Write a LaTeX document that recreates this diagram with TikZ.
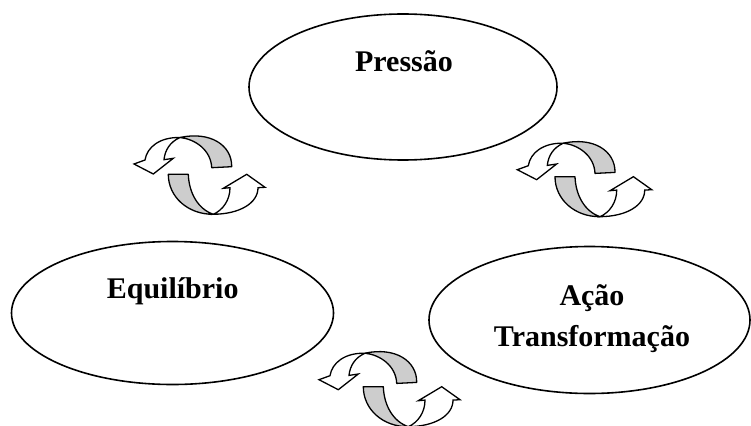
\documentclass[tikz,border=0pt]{standalone}
\usepackage{fontspec}
\setmainfont{Liberation Serif}
\usetikzlibrary{shapes.geometric}
\definecolor{bandgray}{RGB}{205,205,205}
\tikzset{
  oval/.style={ellipse, draw=black, line width=1.6pt, fill=white, inner sep=0pt},
  lbl/.style={font=\fontsize{30}{41}\selectfont\bfseries, inner sep=0pt, align=center},
  grayband/.style={draw=black, line width=1.3pt, fill=bandgray, line join=round},
  whiteband/.style={draw=black, line width=1.3pt, fill=white, line join=miter},
  toparrow/.pic={
    \path[grayband] (60,12.5) .. controls (90,6) and (112,20) .. (111.7,41.7)
      -- (91.7,42.7) .. controls (91,25) and (75,14) .. (60,12.5) -- cycle;
    \path[whiteband] (60,12.5) .. controls (40,12) and (27,22) .. (25,35)
      -- (14,39) -- (33.3,49) -- (53.3,33.3) -- (44,34.7)
      .. controls (45,25) and (50,17) .. (60,12.5) -- cycle;
  },
  botarrow/.pic={
    \path[grayband] (48.3,49.3) .. controls (48.3,72) and (68,89.5) .. (93.3,89.3)
      .. controls (78,84) and (69,68) .. (68.3,49.3) -- cycle;
    \path[whiteband] (93.3,89.3) .. controls (120,89) and (138,78) .. (138,62.7)
      -- (145,62.3) -- (126.7,49.3) -- (103.3,63.3) -- (110,62.7)
      .. controls (110,75) and (103,85) .. (93.3,89.3) -- cycle;
  }
}
\begin{document}
\begin{tikzpicture}[x=1pt,y=-1pt]
\useasboundingbox (0,0) rectangle (751,425);
% ovals
\node[oval, minimum width=308pt, minimum height=146pt] (pressao) at (403,87) {};
\node[oval, minimum width=322pt, minimum height=143pt] (equilibrio) at (172.5,313) {};
\node[oval, minimum width=321pt, minimum height=147pt] (acao) at (589.5,320) {};
% labels
\node[lbl, anchor=base] (tpressao) at (404,71.7) {Pressão};
\node[lbl, anchor=base] (tequilibrio) at (172.7,298.3) {Equilíbrio};
\node[lbl, anchor=base] (tacao) at (592,346) {Ação\\Transformação};
% cycle arrows
\pic at (120,125) {toparrow};
\pic at (120,125) {botarrow};
\pic at (503.3,130.7) {toparrow};
\pic at (506.7,127.4) {botarrow};
\pic at (305,340.7) {toparrow};
\pic at (315,337.4) {botarrow};
\end{tikzpicture}
\end{document}
